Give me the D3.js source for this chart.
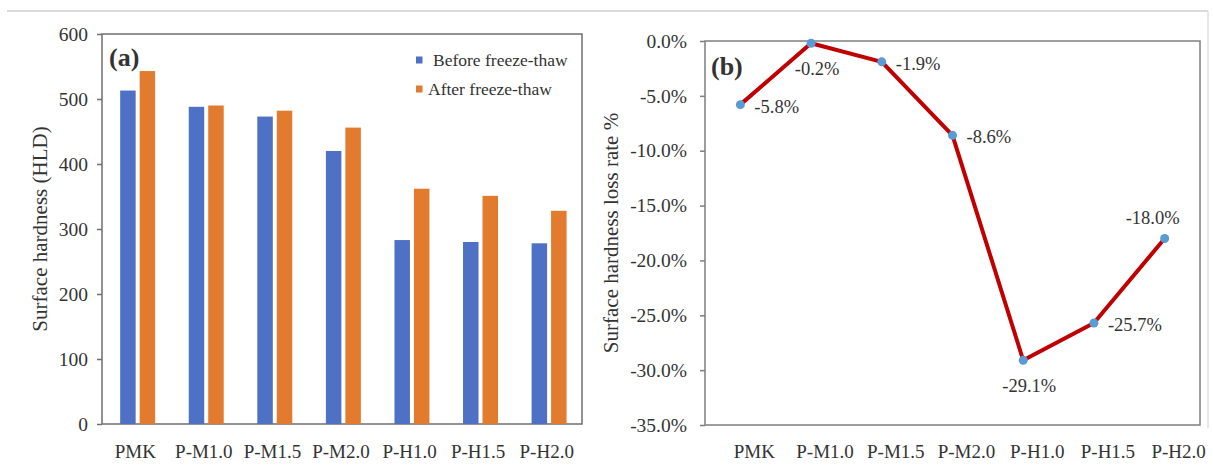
<!DOCTYPE html>
<html>
<head>
<meta charset="utf-8">
<script src="https://cdn.jsdelivr.net/npm/d3@7"></script>
<style>
  body { margin: 0; background: #fff; }
  svg text { font-family: "Liberation Serif", "Times New Roman", serif; fill: #333; }
</style>
</head>
<body>
<svg id="chart" width="1213" height="466"></svg>
<script>
// categories shared by both panels
var categories = ["PMK", "P-M1.0", "P-M1.5", "P-M2.0", "P-H1.0", "P-H1.5", "P-H2.0"];

// panel (a) surface hardness, HLD
var beforeFT = [513, 488, 473, 420, 283, 280, 278];
var afterFT = [543, 490, 482, 456, 362, 351, 328];
var hardTicks = [0, 100, 200, 300, 400, 500, 600];

// panel (b) surface hardness loss rate, %
var lossRate = [-5.8, -0.2, -1.9, -8.6, -29.1, -25.7, -18.0];
var lossTicks = [0, -5, -10, -15, -20, -25, -30, -35];
// where each data label sits relative to its point
var lossLabelPos = ["right", "below", "right", "right", "below", "right", "above"];

var seriesNames = ["Before freeze-thaw", "After freeze-thaw"];
var colors = { before: "#4f71c5", after: "#e27b2d", line: "#c00000", dot: "#5b9bd5" };

// plain hyphen like the original, not the unicode minus d3.format gives
function pct(v) { return v.toFixed(1) + "%"; }

var svg = d3.select("#chart");

// light border of the picture
svg.append("line").attr("x1", 7).attr("x2", 1208).attr("y1", 11).attr("y2", 11)
  .attr("stroke", "#cfcfcf").attr("stroke-width", 1.5);
svg.append("line").attr("x1", 1208).attr("x2", 1208).attr("y1", 11).attr("y2", 428)
  .attr("stroke", "#e0e0e0").attr("stroke-width", 1.5);

// ---------------- panel (a) ----------------
var a = { left: 102, right: 582, top: 34, bottom: 424 };
var xa = d3.scaleBand().domain(categories).range([a.left, a.right]);
var ya = d3.scaleLinear().domain([0, 600]).range([a.bottom, a.top]);
var xs = d3.scaleBand().domain(["before", "after"])
  .range([xa.bandwidth() * 0.265, xa.bandwidth() * 0.775]).paddingInner(0.205);

var ga = svg.append("g");

ga.append("rect").attr("x", a.left).attr("y", a.top)
  .attr("width", a.right - a.left).attr("height", a.bottom - a.top)
  .attr("fill", "none").attr("stroke", "#6f6f6f").attr("stroke-width", 1.5);

var rows = categories.map(function(c, i) { return { cat: c, before: beforeFT[i], after: afterFT[i] }; });

["before", "after"].forEach(function(key) {
  ga.selectAll("rect.bar-" + key).data(rows).enter().append("rect")
    .attr("class", "bar-" + key)
    .attr("x", function(d) { return xa(d.cat) + xs(key); })
    .attr("width", xs.bandwidth())
    .attr("y", function(d) { return ya(d[key]); })
    .attr("height", function(d) { return ya(0) - ya(d[key]); })
    .attr("fill", colors[key]);
});

var ayAxis = ga.append("g").attr("transform", "translate(" + a.left + ",0)")
  .call(d3.axisLeft(ya).tickValues(hardTicks).tickSize(5).tickPadding(9));
ayAxis.select(".domain").remove();
ayAxis.selectAll("line").attr("stroke", "#6f6f6f").attr("stroke-width", 1.5);
ayAxis.selectAll("text").attr("font-size", 19.5).attr("fill", "#333")
  .style("font-family", "Liberation Serif");

ga.selectAll("text.cat").data(categories).enter().append("text")
  .attr("class", "cat")
  .attr("x", function(d) { return xa(d) + xa.bandwidth() / 2 - 1; })
  .attr("y", 458).attr("text-anchor", "middle").attr("font-size", 19)
  .text(function(d) { return d; });

ga.append("text").attr("transform", "translate(47,229) rotate(-90)")
  .attr("text-anchor", "middle").attr("font-size", 21)
  .text("Surface hardness (HLD)");

ga.append("text").attr("x", 109).attr("y", 66).attr("font-size", 26)
  .attr("font-weight", "bold").text("(a)");

// legend
var legend = ga.append("g");
[["before", " Before freeze-thaw", 433, 60], ["after", "After freeze-thaw", 428, 89]].forEach(function(l, i) {
  legend.append("rect").attr("x", 416).attr("y", l[3] - 3.5).attr("width", 6.5).attr("height", 7)
    .attr("fill", colors[l[0]]);
  legend.append("text").attr("x", l[2]).attr("y", l[3] + 6).attr("font-size", 17.5)
    .text(seriesNames[i]);
});

// ---------------- panel (b) ----------------
var b = { left: 705, right: 1200, top: 41, bottom: 425 };
var xb = d3.scaleBand().domain(categories).range([b.left, b.right]);
var yb = d3.scaleLinear().domain([-35, 0]).range([b.bottom, b.top]);

var gb = svg.append("g");

gb.append("rect").attr("x", b.left).attr("y", b.top)
  .attr("width", b.right - b.left).attr("height", b.bottom - b.top)
  .attr("fill", "none").attr("stroke", "#7f7f7f").attr("stroke-width", 1.5);

var byAxis = gb.append("g").attr("transform", "translate(" + b.left + ",0)")
  .call(d3.axisLeft(yb).tickValues(lossTicks).tickSize(5).tickPadding(13).tickFormat(pct));
byAxis.select(".domain").remove();
byAxis.selectAll("line").attr("stroke", "#7f7f7f").attr("stroke-width", 1.5);
byAxis.selectAll("text").attr("font-size", 19.5).attr("fill", "#333")
  .style("font-family", "Liberation Serif");

gb.selectAll("text.cat").data(categories).enter().append("text")
  .attr("class", "cat")
  .attr("x", function(d) { return xb(d) + xb.bandwidth() / 2 + 14; })
  .attr("y", 458).attr("text-anchor", "middle").attr("font-size", 19)
  .text(function(d) { return d; });

gb.append("text").attr("transform", "translate(618,233) rotate(-90)")
  .attr("text-anchor", "middle").attr("font-size", 21)
  .text("Surface hardness loss rate %");

gb.append("text").attr("x", 711).attr("y", 75).attr("font-size", 26)
  .attr("font-weight", "bold").text("(b)");

var pts = categories.map(function(c, i) { return { cat: c, v: lossRate[i], pos: lossLabelPos[i] }; });
var px = function(d) { return xb(d.cat) + xb.bandwidth() / 2; };

var line = d3.line().x(px).y(function(d) { return yb(d.v); });
gb.append("path").datum(pts).attr("d", line)
  .attr("fill", "none").attr("stroke", colors.line).attr("stroke-width", 4)
  .attr("stroke-linejoin", "round");

gb.selectAll("circle.dot").data(pts).enter().append("circle")
  .attr("class", "dot").attr("cx", px).attr("cy", function(d) { return yb(d.v); })
  .attr("r", 4.5).attr("fill", colors.dot);

gb.selectAll("text.lbl").data(pts).enter().append("text")
  .attr("class", "lbl").attr("font-size", 18.5)
  .attr("text-anchor", function(d) { return d.pos == "right" ? "start" : "middle"; })
  .attr("x", function(d) {
    if (d.pos == "right") return px(d) + 14;
    if (d.pos == "above") return px(d) - 12;
    return px(d) + 6;
  })
  .attr("y", function(d) {
    var y = yb(d.v);
    if (d.pos == "right") return y + 8;
    if (d.pos == "above") return y - 14;
    return y + 32;
  })
  .text(function(d) { return pct(d.v); });
</script>
</body>
</html>
